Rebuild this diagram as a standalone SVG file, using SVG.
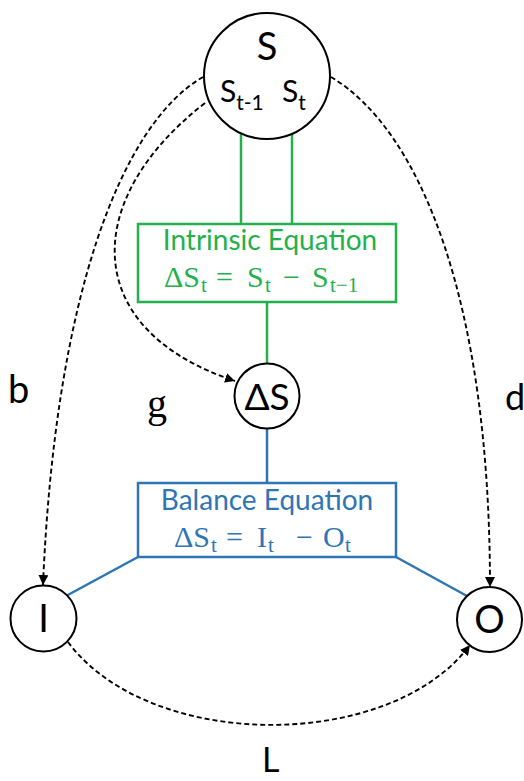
<svg xmlns="http://www.w3.org/2000/svg" width="524" height="781" viewBox="0 0 524 781">
<defs>
<marker id="arr" viewBox="0 0 10 10" refX="10" refY="5" markerWidth="10" markerHeight="10" markerUnits="userSpaceOnUse" orient="auto">
<path d="M0,0 L10,5 L0,10 Z" fill="#000"/>
</marker>
<style>
.node{fill:#fff;stroke:#000;stroke-width:2}
.lbl{font-family:Lato,"Liberation Sans",sans-serif;fill:#000}
.math{font-family:"Liberation Serif","DejaVu Serif",serif}
.sub{font-size:21px}
.dash{fill:none;stroke:#000;stroke-width:1.9;stroke-dasharray:5,3;marker-end:url(#arr)}
.g{stroke:#22b14c;stroke-width:2.5;fill:none}
.b{stroke:#2e75b6;stroke-width:2.5;fill:none}
.gt{fill:#22b14c}
.bt{fill:#2e75b6}
</style>
</defs>
<g id="connectors">
<line class="g" x1="241" y1="116" x2="241" y2="224"/>
<line class="g" x1="292" y1="116" x2="292" y2="224"/>
<line class="g" x1="267" y1="302" x2="267" y2="363"/>
<line class="b" x1="267" y1="429" x2="267" y2="483"/>
<line class="b" x1="138" y1="557" x2="66" y2="596"/>
<line class="b" x1="396" y1="557" x2="467" y2="596"/>
<path class="dash" d="M203,77 C120,125 55,300 43,585"/>
<path class="dash" d="M205,103 C80,200 80,330 235,381"/>
<path class="dash" d="M331,77 C420,130 490,300 490,587"/>
<path class="dash" d="M68,642 C150,752 390,752 470,645"/>
</g>
<g id="node-S">
<circle class="node" cx="267" cy="76" r="63"/>
<text class="lbl" x="267" y="60" font-size="38" text-anchor="middle">S</text>
<text class="lbl" x="220" y="102" font-size="30">S<tspan font-size="21" dy="8">t-1</tspan></text>
<text class="lbl" x="282" y="102" font-size="30">S<tspan font-size="21" dy="8">t</tspan></text>
</g>
<g id="node-intrinsic">
<rect x="138" y="224" width="258" height="78" fill="#fff" stroke="#22b14c" stroke-width="2.5"/>
<text class="lbl gt" x="270" y="250" font-size="28" text-anchor="middle">Intrinsic Equation</text>
<text class="math gt" y="287" font-size="30"><tspan x="164">ΔS</tspan><tspan class="sub" x="201" y="292">t</tspan><tspan x="216" y="287">=</tspan><tspan x="247">S</tspan><tspan class="sub" x="265" y="292">t</tspan><tspan x="283" y="287">−</tspan><tspan x="312">S</tspan><tspan class="sub" x="330" y="292">t−1</tspan></text>
</g>
<g id="node-dS">
<circle class="node" cx="267" cy="396" r="32.5"/>
<text class="lbl" x="267" y="410" font-size="37" text-anchor="middle">ΔS</text>
</g>
<g id="node-balance">
<rect x="138" y="483" width="258" height="74" fill="#fff" stroke="#2e75b6" stroke-width="2.5"/>
<text class="lbl bt" x="267" y="510" font-size="28" text-anchor="middle">Balance Equation</text>
<text class="math bt" y="547" font-size="30"><tspan x="174">ΔS</tspan><tspan class="sub" x="211" y="552">t</tspan><tspan x="226" y="547">=</tspan><tspan x="257">I</tspan><tspan class="sub" x="268" y="552">t</tspan><tspan x="296" y="547">−</tspan><tspan x="323">O</tspan><tspan class="sub" x="345" y="552">t</tspan></text>
</g>
<g id="node-I">
<circle class="node" cx="43.5" cy="618.5" r="33"/>
<text class="lbl" x="43.5" y="632" font-size="38" text-anchor="middle">I</text>
</g>
<g id="node-O">
<circle class="node" cx="489.5" cy="619.5" r="32.5"/>
<text class="lbl" x="489.5" y="633" font-size="38" text-anchor="middle">O</text>
</g>
<g id="labels">
<text class="lbl" x="8" y="403" font-size="38">b</text>
<text class="math" x="147" y="417" font-size="40">g</text>
<text class="lbl" x="505" y="410" font-size="36">d</text>
<text class="lbl" x="262" y="772" font-size="34">L</text>
</g>
</svg>
